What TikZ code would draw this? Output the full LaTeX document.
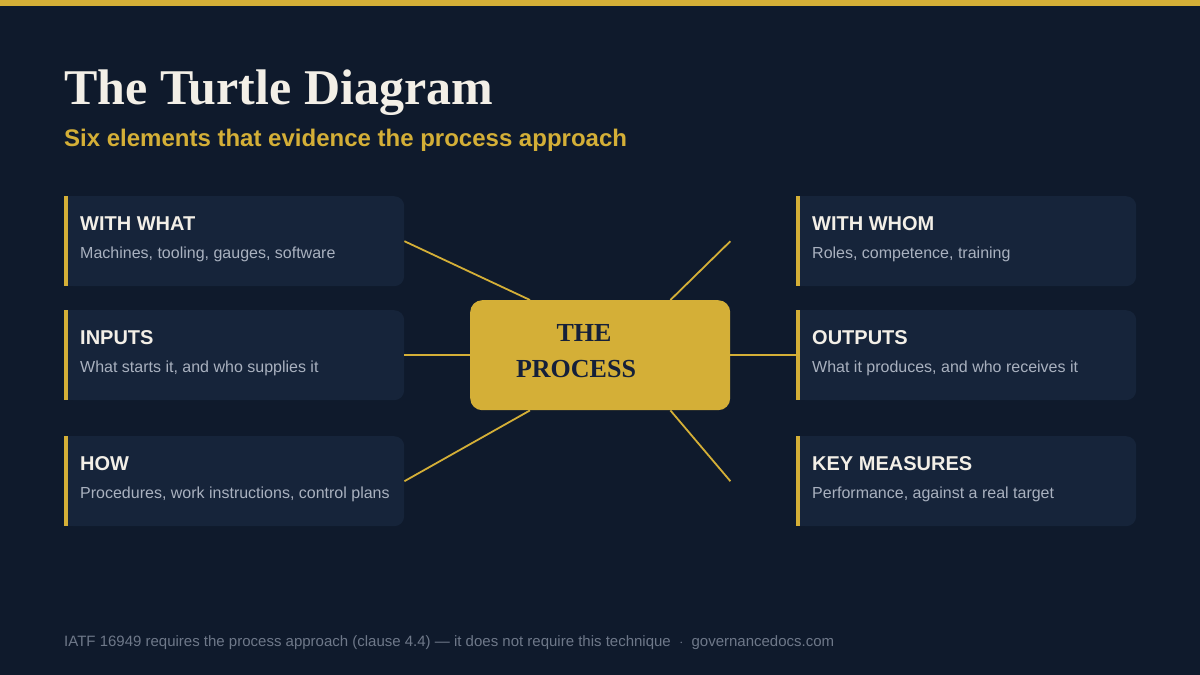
\documentclass[tikz,border=0pt]{standalone}
\usepackage{fontspec}
\setmainfont{Liberation Serif}
\setsansfont{Liberation Sans}
\usetikzlibrary{calc}
\definecolor{bg}{HTML}{0F1A2C}
\definecolor{cardc}{HTML}{16243A}
\definecolor{gold}{HTML}{D4AF37}
\definecolor{headc}{HTML}{F3EFE7}
\definecolor{descc}{HTML}{A9B1BF}
\definecolor{footc}{HTML}{6E7889}
\definecolor{procc}{HTML}{15203A}
\newcommand\mycard[5]{%
  \node[card] (#1) at (#2,#3) {};
  \fill[cardc] (#2,#3) rectangle ++(16,90);
  \fill[gold] (#2,#3) rectangle ++(4,90);
  \node[head] (#1h) at (#2+16,#3+34) {#4};
  \node[desc] (#1d) at (#2+16,#3+62) {#5};
}
\begin{document}
\begin{tikzpicture}[x=1pt,y=-1pt,
  card/.style={draw=none, fill=cardc, rounded corners=10pt, minimum width=340pt, minimum height=90pt, inner sep=0pt, anchor=north west},
  head/.style={anchor=base west, inner sep=0pt, font=\sffamily\bfseries\fontsize{20}{24}\selectfont, text=headc},
  desc/.style={anchor=base west, inner sep=0pt, font=\sffamily\fontsize{16}{19}\selectfont, text=descc},
  link/.style={draw=gold, line width=1.8pt}]
\useasboundingbox (0,0) rectangle (1200,675);
\fill[bg] (0,0) rectangle (1200,675);
\fill[gold] (0,0) rectangle (1200,6);
\node[anchor=base west, inner sep=0pt, text=headc, font=\bfseries\fontsize{50}{58}\selectfont] (title) at (64,104) {The Turtle Diagram};
\node[anchor=base west, inner sep=0pt, text=gold, font=\sffamily\bfseries\fontsize{24}{28}\selectfont] (sub) at (64,146) {Six elements that evidence the process approach};
\mycard{ww}{64}{196}{WITH WHAT}{Machines, tooling, gauges, software}
\mycard{in}{64}{310}{INPUTS}{What starts it, and who supplies it}
\mycard{how}{64}{436}{HOW}{Procedures, work instructions, control plans}
\mycard{wm}{796}{196}{WITH WHOM}{Roles, competence, training}
\mycard{out}{796}{310}{OUTPUTS}{What it produces, and who receives it}
\mycard{km}{796}{436}{KEY MEASURES}{Performance, against a real target}
\node[draw=none, fill=gold, rounded corners=12pt, minimum width=260pt, minimum height=110pt, inner sep=0pt, anchor=north west] (proc) at (470,300) {};
\node[anchor=base, inner sep=0pt, text=procc, font=\bfseries\fontsize{26}{30}\selectfont] (pt1) at (584,341) {THE};
\node[anchor=base, inner sep=0pt, text=procc, font=\bfseries\fontsize{26}{30}\selectfont] (pt2) at (576,377) {PROCESS};
\coordinate (ptl) at ($(proc.north west)+(60,0)$);
\coordinate (ptr) at ($(proc.north east)+(-60,0)$);
\coordinate (pbl) at ($(proc.south west)+(60,0)$);
\coordinate (pbr) at ($(proc.south east)+(-60,0)$);
\coordinate (rw) at (proc.east |- wm.west);
\coordinate (rk) at (proc.east |- km.west);
\draw[link] (ww.east) -- (ptl);
\draw[link] (in.east) -- (proc.west);
\draw[link] (how.east) -- (pbl);
\draw[link] (rw) -- (ptr);
\draw[link] (proc.east) -- (out.west);
\draw[link] (rk) -- (pbr);
\node[anchor=base west, inner sep=0pt, text=footc, font=\sffamily\fontsize{15}{18}\selectfont] (foot) at (64,646) {IATF 16949 requires the process approach (clause 4.4) — it does not require this technique \ $\cdot$\ \ governancedocs.com};
\end{tikzpicture}
\end{document}
